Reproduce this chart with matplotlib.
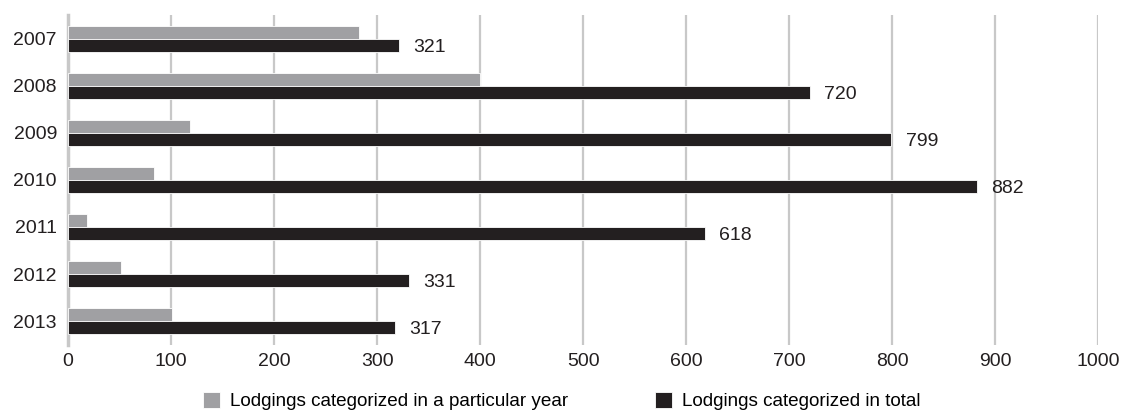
import numpy as np
from matplotlib import pyplot as plt

plt.rcParams['font.family'] = ['Liberation Sans', 'DejaVu Sans']

years = ['2007', '2008', '2009', '2010', '2011', '2012', '2013']
per_year = [282, 400, 118, 83, 18, 51, 101]
in_total = [321, 720, 799, 882, 618, 331, 317]

gray = '#a0a0a3'
dark = '#231f20'
fs = 14

fig = plt.figure(figsize=(11.24, 4.11), dpi=100)
ax = fig.add_axes([0.0605, 0.1606, 0.9165, 0.803])

y = np.arange(len(years))
h = 0.27
ax.barh(y - h / 2, per_year, height=h, color=gray, edgecolor='white', linewidth=0.6,
        label='Lodgings categorized in a particular year', zorder=3)
ax.barh(y + h / 2, in_total, height=h, color=dark, edgecolor='white', linewidth=0.6,
        label='Lodgings categorized in total', zorder=3)

for yy, v in zip(y, in_total):
    ax.text(v + 14, yy + h / 2 + 0.05, str(v), va='center', ha='left', fontsize=fs, color=dark)

ax.set_xlim(0, 1000)
ax.set_ylim(len(years) - 0.49, -0.51)
ax.set_xticks(range(0, 1001, 100))
ax.set_yticks(y)
ax.set_yticklabels(years)
ax.tick_params(axis='both', length=0, labelsize=fs, colors=dark)
ax.tick_params(axis='y', pad=8)
ax.tick_params(axis='x', pad=6)
ax.xaxis.grid(True, color='#c8c8c8', linewidth=1.6, zorder=0)
ax.set_axisbelow(True)
for s in ['top', 'right', 'bottom']:
    ax.spines[s].set_visible(False)
ax.spines['left'].set_color('#c8c8c8')
ax.spines['left'].set_linewidth(2.5)

fig.legend(loc='lower center', bbox_to_anchor=(0.4996, -0.04), ncol=2, frameon=False,
           fontsize=13.6, handlelength=0.9, handleheight=0.9, columnspacing=4.6,
           handletextpad=0.53)

fig.savefig('out.png', dpi=100)
